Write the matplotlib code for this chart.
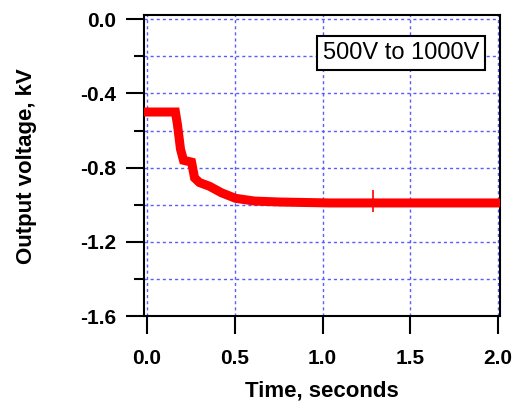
import numpy as np
import matplotlib
matplotlib.use('Agg')
import matplotlib.pyplot as plt
from matplotlib.ticker import MultipleLocator

plt.rcParams['font.family'] = ['Liberation Sans', 'DejaVu Sans']

# step response (seconds, kV)
time = [0.0, 0.162, 0.174, 0.191, 0.208, 0.254, 0.271, 0.299, 0.356,
        0.424, 0.504, 0.613, 0.755, 1.04, 2.0]
voltage = [-0.50, -0.50, -0.57, -0.70, -0.76, -0.77, -0.855, -0.88, -0.90,
           -0.935, -0.965, -0.98, -0.985, -0.99, -0.99]

# single glitch on the settled trace
spike_t = [1.287]
spike_lo = [-1.04]
spike_hi = [-0.92]

xticks = [0.0, 0.5, 1.0, 1.5, 2.0]
yticks = [0.0, -0.4, -0.8, -1.2, -1.6]
note = '500V to 1000V'

fig = plt.figure(figsize=(5.16, 4.09), dpi=100)
ax = fig.add_axes([0.279, 0.227, 0.690, 0.736])

ax.plot(time, voltage, color='#ff0000', lw=6.5, solid_joinstyle='miter', zorder=3)
ax.vlines(spike_t, spike_lo, spike_hi, color='#ff0000', lw=1.2, zorder=3)

ax.set_xlim(-0.017, 2.01)
ax.set_ylim(-1.6, 0.022)
ax.set_xticks(xticks)
ax.set_xticklabels(['%.1f' % v for v in xticks])
ax.set_yticks(yticks)
ax.set_yticklabels(['%.1f' % v for v in yticks])
ax.yaxis.set_minor_locator(MultipleLocator(0.2))

ax.grid(True, which='both', axis='y', color='#5a5aff', ls=(0, (2.2, 2.2)), lw=1.0)
ax.grid(True, which='major', axis='x', color='#5a5aff', ls=(0, (2.2, 2.2)), lw=1.0)
ax.set_axisbelow(True)

for s in ax.spines.values():
    s.set_linewidth(1.5)
ax.tick_params(which='major', direction='out', length=13, width=1.5,
               labelsize=15, pad=7)
ax.tick_params(axis='x', which='major', pad=11)
ax.tick_params(which='minor', direction='out', length=7, width=1.5)
for lab in ax.get_xticklabels() + ax.get_yticklabels():
    lab.set_fontweight('bold')

ax.set_xlabel('Time, seconds', fontsize=16, fontweight='bold', labelpad=9)
ax.set_ylabel('Output voltage, kV', fontsize=16, fontweight='bold', labelpad=31)

ax.text(0.723, 0.874, note, transform=ax.transAxes, ha='center', va='center',
        fontsize=17, bbox=dict(boxstyle='square,pad=0.25', fc='white',
                               ec='black', lw=1.5), zorder=5)

fig.savefig('out.png', dpi=100)
